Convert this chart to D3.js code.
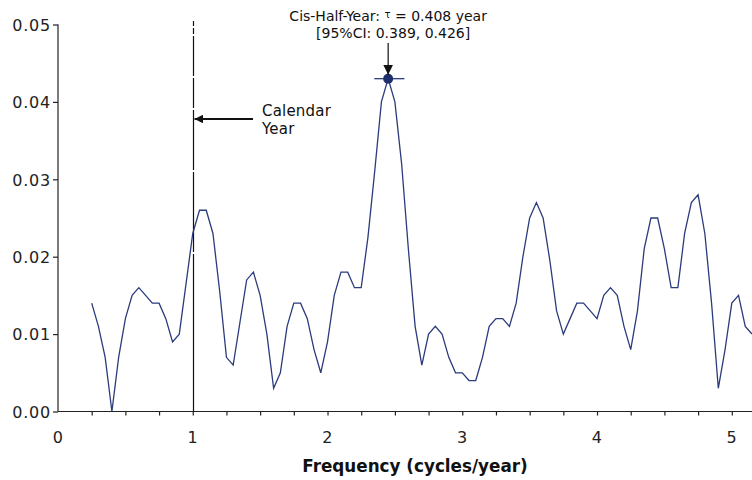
<!DOCTYPE html>
<html>
<head>
<meta charset="utf-8">
<script src="https://cdn.jsdelivr.net/npm/d3@7"></script>
<style>
  html, body { margin: 0; padding: 0; background: #fff; }
  svg { display: block; font-family: "DejaVu Sans", Verdana, sans-serif; }
</style>
</head>
<body>
<svg id="chart" width="752" height="480"></svg>
<script>
// ---- data ----
const frequencies = [
  0.25,0.30,0.35,0.40,0.45,0.50,0.55,0.60,0.65,0.70,0.75,0.80,0.85,0.90,0.95,
  1.00,1.05,1.10,1.15,1.20,1.25,1.30,1.35,1.40,1.45,1.50,1.55,1.60,1.65,1.70,
  1.75,1.80,1.85,1.90,1.95,2.00,2.05,2.10,2.15,2.20,2.25,2.30,2.35,2.40,2.45,
  2.50,2.55,2.60,2.65,2.70,2.75,2.80,2.85,2.90,2.95,3.00,3.05,3.10,3.15,3.20,
  3.25,3.30,3.35,3.40,3.45,3.50,3.55,3.60,3.65,3.70,3.75,3.80,3.85,3.90,3.95,
  4.00,4.05,4.10,4.15,4.20,4.25,4.30,4.35,4.40,4.45,4.50,4.55,4.60,4.65,4.70,
  4.75,4.80,4.85,4.90,4.95,5.00,5.05,5.10,5.15
];
const power = [
  0.014,0.011,0.007,0.000,0.007,0.012,0.015,0.016,0.015,0.014,0.014,0.012,0.009,0.010,0.0165,
  0.023,0.026,0.026,0.023,0.0155,0.007,0.006,0.0115,0.017,0.018,0.015,0.010,0.003,0.005,0.011,
  0.014,0.014,0.012,0.008,0.005,0.009,0.015,0.018,0.018,0.016,0.016,0.0225,0.031,0.040,0.043,
  0.040,0.032,0.021,0.011,0.006,0.010,0.011,0.010,0.007,0.005,0.005,0.004,0.004,0.007,0.011,
  0.012,0.012,0.011,0.014,0.020,0.025,0.027,0.025,0.0195,0.013,0.010,0.012,0.014,0.014,0.013,
  0.012,0.015,0.016,0.015,0.011,0.008,0.013,0.021,0.025,0.025,0.021,0.016,0.016,0.023,0.027,
  0.028,0.023,0.014,0.003,0.008,0.014,0.015,0.011,0.010
];
const xTickValues = [0, 1, 2, 3, 4, 5];
const xMinorTicks = [0.25,0.5,0.75,1,1.25,1.5,1.75,2,2.25,2.5,2.75,3,3.25,3.5,3.75,4,4.25,4.5,4.75,5];
const yTickValues = [0, 0.01, 0.02, 0.03, 0.04, 0.05];
const calendarFreq = 1;
const peakFreq = [2.45];
const peakPower = [0.043];
const peakCI = [1 / 0.426, 1 / 0.389];
const annoLines = ["Cis-Half-Year: ", "τ", " = 0.408 year", "[95%CI: 0.389, 0.426]"];
const calendarLabel = ["Calendar", "Year"];
const xTitle = "Frequency (cycles/year)";

// ---- layout ----
const svg = d3.select("#chart");
const x = d3.scaleLinear().domain([0, 5.15]).range([58, 752]);
const y = d3.scaleLinear().domain([0, 0.05]).range([411.5, 24.5]);
const lineColor = "#2b3b7c";

// clip
svg.append("defs").append("clipPath").attr("id", "plotclip")
  .append("rect").attr("x", 58).attr("y", 0).attr("width", 694).attr("height", 420);

// axes
const xAxis = svg.append("g").attr("transform", `translate(0,${y(0)})`)
  .call(d3.axisBottom(x).tickValues(xMinorTicks).tickSize(4).tickFormat(""));
xAxis.select(".domain").attr("d", `M${x(0)},0H752`);
xAxis.selectAll("line,path").attr("stroke", "#222").attr("stroke-width", 1.2);

svg.append("g").selectAll("text").data(xTickValues).join("text")
  .attr("x", d => x(d)).attr("y", 443)
  .attr("text-anchor", "middle").attr("font-size", 16).attr("letter-spacing", 0.5)
  .attr("fill", "#222").text(d => d);

const yAxis = svg.append("g").attr("transform", `translate(${x(0)},0)`)
  .call(d3.axisLeft(y).tickValues(yTickValues).tickSize(5).tickFormat(d3.format(".2f")));
yAxis.select(".domain").attr("d", `M0,${y(0.05)}V${y(0)}`);
yAxis.selectAll("line,path").attr("stroke", "#222").attr("stroke-width", 1.2);
yAxis.selectAll("text").attr("font-size", 16).attr("letter-spacing", 0.8).attr("fill", "#222")
  .attr("x", -7).attr("dy", "0.36em").style("font-family", "'DejaVu Sans', Verdana, sans-serif");

// x title
svg.append("text").attr("x", 415).attr("y", 472).attr("text-anchor", "middle")
  .attr("font-size", 16.8).attr("font-weight", "bold").attr("fill", "#111").text(xTitle);

// calendar year line
const cx = Math.round(x(calendarFreq)) + 0.5;
svg.append("line").attr("x1", cx).attr("x2", cx)
  .attr("y1", 21).attr("y2", y(0)).attr("stroke", "#111").attr("stroke-width", 1.2)
  .attr("stroke-dasharray", "5,2,6,2,40,2,30,2,60,2,80,2,200");

// data line
const pts = frequencies.map((f, i) => [f, power[i]]);
svg.append("path").datum(pts).attr("clip-path", "url(#plotclip)")
  .attr("fill", "none").attr("stroke", lineColor).attr("stroke-width", 1.3)
  .attr("d", d3.line().x(d => x(d[0])).y(d => y(d[1])));

// peak marker with CI bar
svg.append("line").attr("x1", x(peakCI[0])).attr("x2", x(peakCI[1]))
  .attr("y1", y(peakPower[0])).attr("y2", y(peakPower[0]))
  .attr("stroke", lineColor).attr("stroke-width", 1.3);
svg.append("circle").attr("cx", x(peakFreq[0])).attr("cy", y(peakPower[0])).attr("r", 5)
  .attr("fill", "#1f2d6b");

// arrowheads
const defs = svg.select("defs");
defs.append("marker").attr("id", "arrow").attr("viewBox", "0 0 10 10")
  .attr("refX", 10).attr("refY", 5).attr("markerWidth", 4).attr("markerHeight", 4)
  .attr("markerUnits", "strokeWidth").attr("orient", "auto")
  .append("path").attr("d", "M0,0L10,5L0,10z").attr("fill", "#111");
defs.append("marker").attr("id", "arrow2").attr("viewBox", "0 0 10 10")
  .attr("refX", 10).attr("refY", 5).attr("markerWidth", 8).attr("markerHeight", 8)
  .attr("markerUnits", "strokeWidth").attr("orient", "auto")
  .append("path").attr("d", "M0,0L10,5L0,10z").attr("fill", "#111");

// peak annotation
const px = x(peakFreq[0]);
svg.append("line").attr("x1", px).attr("x2", px).attr("y1", 43).attr("y2", y(peakPower[0]) - 4)
  .attr("stroke", "#111").attr("stroke-width", 1.2).attr("marker-end", "url(#arrow2)");
const t1 = svg.append("text").attr("x", px).attr("y", 21).attr("text-anchor", "middle")
  .attr("font-size", 14).attr("fill", "#111");
t1.append("tspan").text(annoLines[0]);
t1.append("tspan").attr("font-size", 10).attr("dy", -3).text(annoLines[1]);
t1.append("tspan").attr("dy", 3).text(annoLines[2]);
svg.append("text").attr("x", px + 5).attr("y", 38).attr("text-anchor", "middle")
  .attr("font-size", 14).attr("fill", "#111").text(annoLines[3]);

// calendar annotation
svg.append("line").attr("x1", 253).attr("x2", cx + 1).attr("y1", 119).attr("y2", 119)
  .attr("stroke", "#111").attr("stroke-width", 2.2).attr("marker-end", "url(#arrow)");
svg.append("text").attr("x", 262).attr("y", 116).attr("font-size", 15).attr("letter-spacing", 0.2)
  .attr("fill", "#111").text(calendarLabel[0]);
svg.append("text").attr("x", 262).attr("y", 134).attr("font-size", 15).attr("letter-spacing", 0.2)
  .attr("fill", "#111").text(calendarLabel[1]);
</script>
</body>
</html>
